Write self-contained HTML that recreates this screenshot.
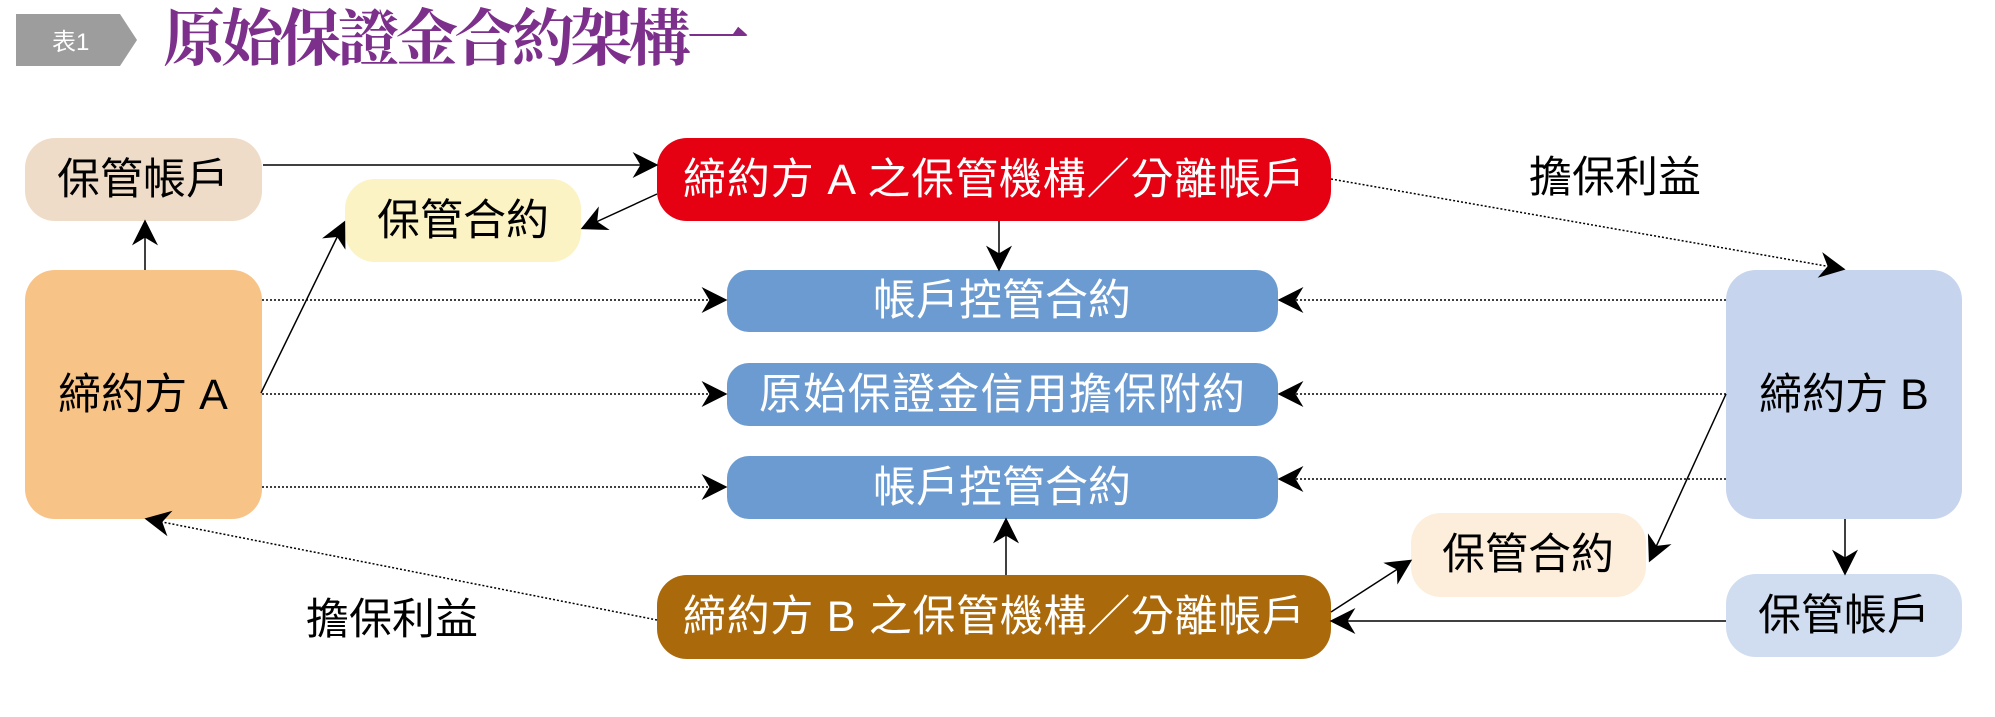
<!DOCTYPE html>
<html><head><meta charset="utf-8"><style>
body{margin:0;background:#fff;}
svg{display:block}
text{font-family:"Liberation Sans","Noto Sans CJK TC",sans-serif;}
</style></head><body>
<svg width="1995" height="717" viewBox="0 0 1995 717" xmlns="http://www.w3.org/2000/svg">
<defs>
<marker id="b" viewBox="0 0 10 10" refX="9" refY="5" markerWidth="26" markerHeight="26" markerUnits="userSpaceOnUse" orient="auto"><path d="M0,0 L10,5 L0,10 L3,5 z" fill="#000"/></marker>
</defs>
<!-- title -->
<polygon points="16,14 120,14 137,40 120,66 16,66" fill="#9d9d9d"/>
<text x="52" y="50" font-size="24" fill="#fff">表1</text>
<text x="163" y="60" font-size="62" font-weight="bold" fill="#7d2f8c" style='font-family:"Liberation Serif","Noto Serif CJK SC",serif' textLength="586">原始保證金合約架構一</text>

<!-- boxes -->
<rect x="25" y="138" width="237" height="83" rx="30" fill="#efdcc8"/>
<rect x="345" y="179" width="236" height="83" rx="30" fill="#fbf3c3"/>
<rect x="657" y="138" width="674" height="83" rx="30" fill="#e50012"/>
<rect x="25" y="270" width="237" height="249" rx="30" fill="#f8c387"/>
<rect x="727" y="270" width="551" height="62" rx="22" fill="#6b9bd0"/>
<rect x="727" y="363" width="551" height="63" rx="22" fill="#6b9bd0"/>
<rect x="727" y="456" width="551" height="63" rx="22" fill="#6b9bd0"/>
<rect x="1726" y="270" width="236" height="249" rx="30" fill="#c6d4ee"/>
<rect x="1411" y="513" width="235" height="84" rx="30" fill="#fdeedb"/>
<rect x="657" y="575" width="674" height="84" rx="30" fill="#aa6a0b"/>
<rect x="1726" y="574" width="236" height="83" rx="30" fill="#d0dcf0"/>

<!-- texts -->
<g font-size="43" text-anchor="middle" dominant-baseline="central">
<text x="143" y="180">保管帳戶</text>
<text x="463" y="221">保管合約</text>
<text x="994" y="180" fill="#fff" textLength="622">締約方 A 之保管機構／分離帳戶</text>
<text x="143" y="395">締約方 A</text>
<text x="1002" y="301" fill="#fff">帳戶控管合約</text>
<text x="1002" y="395" fill="#fff" textLength="486">原始保證金信用擔保附約</text>
<text x="1002" y="488" fill="#fff">帳戶控管合約</text>
<text x="1844" y="395">締約方 B</text>
<text x="1528" y="555">保管合約</text>
<text x="994" y="617" fill="#fff" textLength="622">締約方 B 之保管機構／分離帳戶</text>
<text x="1844" y="616">保管帳戶</text>
<text x="1615" y="178">擔保利益</text>
<text x="392" y="620">擔保利益</text>
</g>

<!-- connectors -->
<g stroke="#000" stroke-width="1.5" fill="none">
<line x1="263" y1="165" x2="656" y2="165" marker-end="url(#b)"/>
<line x1="145" y1="270" x2="145" y2="222" marker-end="url(#b)"/>
<line x1="261" y1="393" x2="344" y2="223" marker-end="url(#b)"/>
<line x1="657" y1="194" x2="583" y2="228" marker-end="url(#b)"/>
<line x1="999" y1="221" x2="999" y2="269" marker-end="url(#b)"/>
<line x1="1006" y1="575" x2="1006" y2="520" marker-end="url(#b)"/>
<line x1="1726" y1="394" x2="1650" y2="560" marker-end="url(#b)"/>
<line x1="1331" y1="612" x2="1410" y2="561" marker-end="url(#b)"/>
<line x1="1845" y1="519" x2="1845" y2="573" marker-end="url(#b)"/>
<line x1="1726" y1="621" x2="1332" y2="621" marker-end="url(#b)"/>
</g>
<g stroke="#000" stroke-width="1.5" fill="none" stroke-dasharray="2,2">
<line x1="262" y1="300" x2="725" y2="300" marker-end="url(#b)"/>
<line x1="262" y1="394" x2="725" y2="394" marker-end="url(#b)"/>
<line x1="262" y1="487" x2="725" y2="487" marker-end="url(#b)"/>
<line x1="1726" y1="300" x2="1280" y2="300" marker-end="url(#b)"/>
<line x1="1726" y1="394" x2="1280" y2="394" marker-end="url(#b)"/>
<line x1="1726" y1="479" x2="1280" y2="479" marker-end="url(#b)"/>
<line x1="1331" y1="179" x2="1843" y2="269" marker-end="url(#b)"/>
<line x1="657" y1="620" x2="147" y2="519" marker-end="url(#b)"/>
</g>
</svg>
</body></html>
